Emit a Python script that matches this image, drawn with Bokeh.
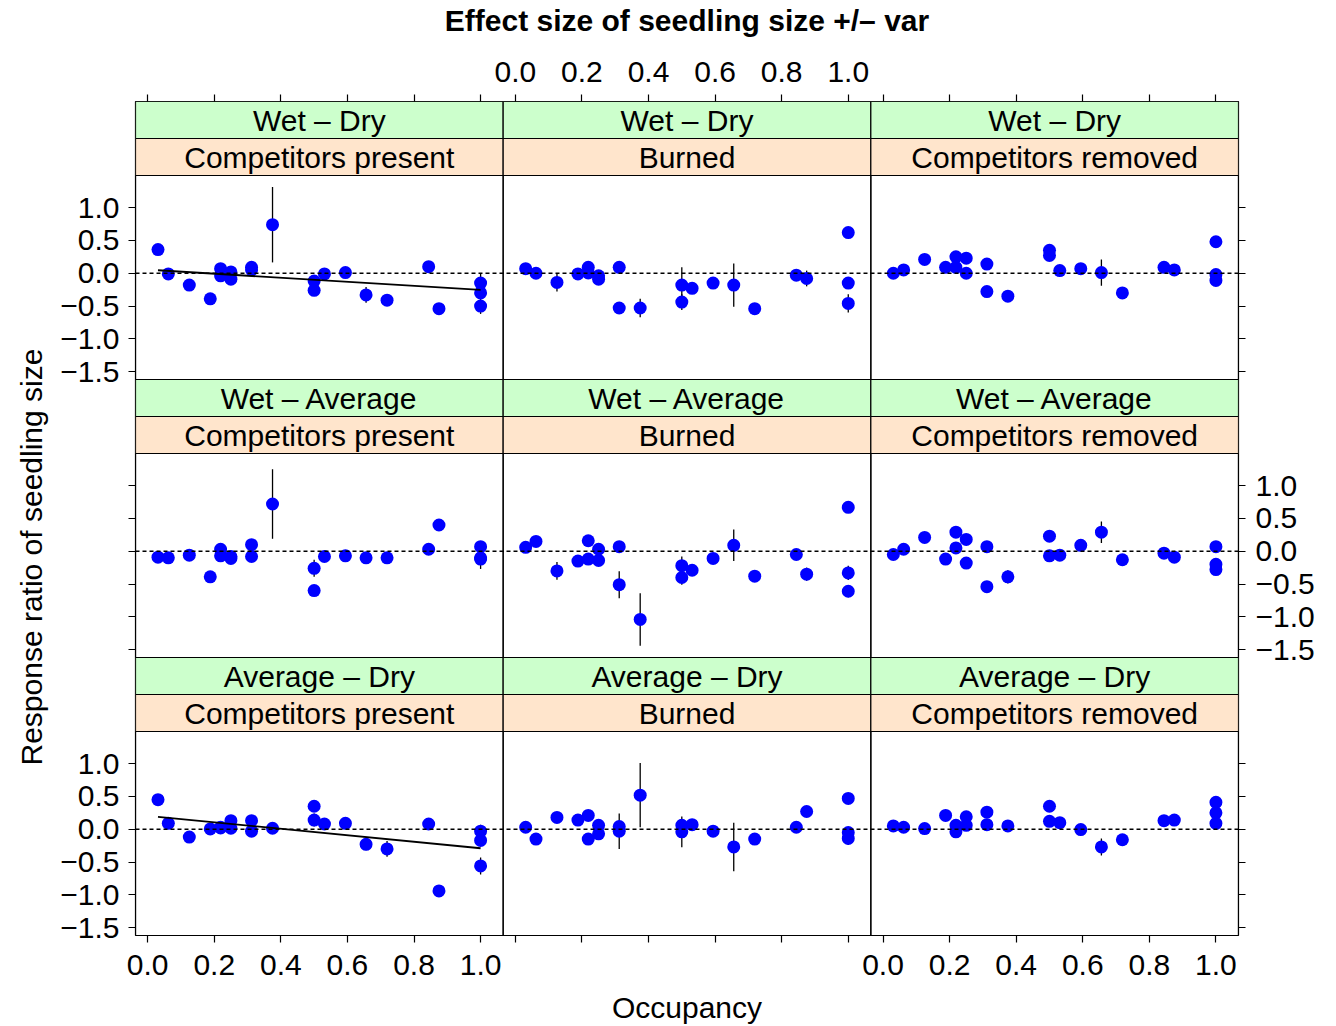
from bokeh.plotting import figure
from bokeh.models import (ColumnDataSource, Range1d, LinearAxis, FixedTicker,
                          CustomJSTickFormatter, Span, Title)
from bokeh.transform import dodge
from bokeh.embed import file_html
from bokeh.resources import INLINE
from bokeh.core.properties import value

# ---------------- data ----------------
contrasts = ["Wet – Dry", "Wet – Average", "Average – Dry"]
treatments = ["Competitors present", "Burned", "Competitors removed"]

occupancy = [0.031, 0.062, 0.125, 0.188, 0.219, 0.219, 0.25, 0.25, 0.312, 0.312,
             0.375, 0.5, 0.5, 0.531, 0.594, 0.656, 0.719, 0.844, 0.875, 1.0, 1.0, 1.0]

# response ratio of seedling size, one list per panel (contrast x treatment)
wd_present = [0.36, -0.01, -0.18, -0.39, 0.07, -0.04, 0.02, -0.09, 0.09, 0.05,
              0.74, -0.12, -0.26, -0.01, 0.01, -0.33, -0.41, 0.10, -0.54, -0.15, -0.30, -0.50]
wd_burned = [0.07, 0.0, -0.14, -0.01, 0.09, 0.005, -0.04, -0.09, 0.09, -0.53,
             -0.53, -0.18, -0.44, -0.23, -0.15, -0.18, -0.54, -0.03, -0.08, 0.62, -0.15, -0.46]
wd_removed = [0.0, 0.05, 0.21, 0.09, 0.25, 0.09, 0.23, 0.0, 0.14, -0.28,
              -0.35, 0.35, 0.27, 0.04, 0.07, 0.01, -0.30, 0.09, 0.05, 0.48, -0.02, -0.11]
wa_present = [-0.09, -0.10, -0.06, -0.39, 0.03, -0.07, -0.08, -0.11, 0.10, -0.08,
              0.72, -0.26, -0.60, -0.08, -0.07, -0.10, -0.10, 0.03, 0.40, 0.07, -0.12, -0.10]
wa_burned = [0.06, 0.15, -0.30, -0.15, 0.16, -0.12, 0.03, -0.14, 0.07, -0.51,
             -1.04, -0.22, -0.40, -0.29, -0.11, 0.09, -0.38, -0.05, -0.35, 0.67, -0.33, -0.61]
wa_removed = [-0.05, 0.03, 0.21, -0.12, 0.29, 0.05, 0.18, -0.18, 0.07, -0.54,
              -0.39, 0.23, -0.07, -0.06, 0.09, 0.29, -0.13, -0.03, -0.09, 0.07, -0.20, -0.28]
ad_present = [0.45, 0.09, -0.12, 0.005, 0.03, 0.02, 0.13, 0.015, 0.13, -0.03,
              0.015, 0.35, 0.14, 0.08, 0.09, -0.23, -0.30, 0.08, -0.94, -0.03, -0.17, -0.56]
ad_burned = [0.03, -0.15, 0.18, 0.14, 0.21, -0.15, 0.06, -0.07, 0.04, -0.03,
             0.52, 0.06, -0.04, 0.07, -0.03, -0.27, -0.15, 0.03, 0.27, 0.47, -0.05, -0.14]
ad_removed = [0.05, 0.03, 0.01, 0.21, 0.06, -0.04, 0.19, 0.06, 0.26, 0.07,
              0.05, 0.35, 0.12, 0.10, -0.005, -0.27, -0.16, 0.13, 0.14, 0.41, 0.25, 0.09]

# +/- variance (half length of the vertical bars)
wd_present_var = [0, 0, 0, 0, 0, 0, 0, 0, 0, 0, 0.575, 0, 0, 0, 0, 0.12, 0, 0, 0, 0.14, 0, 0.12]
wd_burned_var = [0, 0, 0.14, 0, 0, 0, 0, 0, 0, 0, 0.14, 0.27, 0.12, 0, 0, 0.33, 0, 0, 0.12, 0, 0.09, 0.14]
wd_removed_var = [0, 0, 0, 0, 0, 0, 0, 0, 0, 0, 0, 0, 0, 0, 0, 0.2, 0.09, 0, 0, 0, 0, 0]
wa_present_var = [0, 0, 0, 0, 0, 0, 0, 0, 0, 0, 0.53, 0.13, 0, 0, 0, 0, 0.07, 0, 0, 0, 0.15, 0]
wa_burned_var = [0, 0, 0.135, 0, 0, 0, 0, 0, 0, 0.205, 0.40, 0.14, 0.11, 0, 0, 0.24, 0, 0, 0.10, 0, 0.11, 0.09]
wa_removed_var = [0, 0, 0, 0.06, 0, 0, 0, 0, 0, 0, 0.10, 0, 0, 0, 0, 0.165, 0, 0, 0.06, 0, 0, 0]
ad_present_var = [0, 0, 0, 0, 0, 0, 0, 0, 0, 0, 0, 0, 0.10, 0, 0, 0.09, 0.12, 0, 0, 0.10, 0, 0.13]
ad_burned_var = [0, 0, 0, 0, 0, 0, 0, 0, 0, 0.27, 0.49, 0, 0.235, 0, 0, 0.37, 0, 0, 0, 0, 0, 0.10]
ad_removed_var = [0, 0, 0, 0, 0, 0, 0, 0, 0, 0, 0, 0, 0, 0, 0, 0.13, 0, 0, 0, 0, 0, 0]

panel_values = [[wd_present, wd_burned, wd_removed],
                [wa_present, wa_burned, wa_removed],
                [ad_present, ad_burned, ad_removed]]
panel_vars = [[wd_present_var, wd_burned_var, wd_removed_var],
              [wa_present_var, wa_burned_var, wa_removed_var],
              [ad_present_var, ad_burned_var, ad_removed_var]]

# fitted regression lines (contrast, treatment, intercept, slope)
fit_contrast = ["Wet – Dry", "Average – Dry"]
fit_treatment = ["Competitors present", "Competitors present"]
fit_intercept = [0.055, 0.205]
fit_slope = [-0.31, -0.495]

x_ticks = [0.0, 0.2, 0.4, 0.6, 0.8, 1.0]
y_ticks = [-1.5, -1.0, -0.5, 0.0, 0.5, 1.0]

main_title = "Effect size of seedling size +/– var"
x_title = "Occupancy"
y_title = "Response ratio of seedling size"

# ---------------- layout ----------------
XLIM = (-0.0366, 1.0678)
YLIM = (-1.62, 1.49)
FRAME_W, FRAME_H = 1103, 834
PLOT_PX, STRIP_PX = 204, 37
W = XLIM[1] - XLIM[0]
s = STRIP_PX * (YLIM[1] - YLIM[0]) / PLOT_PX
H = (YLIM[1] - YLIM[0]) + 2 * s
FONT = "Liberation Sans"
FS = "30px"

p = figure(frame_width=FRAME_W, frame_height=FRAME_H,
           min_border_left=135, min_border_right=98, min_border_top=101, min_border_bottom=91,
           x_range=Range1d(XLIM[0], XLIM[0] + 3 * W), y_range=Range1d(YLIM[0], YLIM[0] + 3 * H),
           x_axis_location=None, y_axis_location=None,
           output_backend="svg", toolbar_location=None, tools="")
p.grid.visible = False
p.outline_line_color = "black"
p.outline_line_width = 1.2
p.background_fill_color = "white"
p.border_fill_color = "white"

xt = [c * W + v for c in range(3) for v in x_ticks]
yt = [b * H + v for b in range(3) for v in y_ticks]

def xfmt(show):
    return CustomJSTickFormatter(args=dict(W=W, lo=XLIM[0], show=show), code="""
        const c = Math.floor((tick - lo) / W);
        if (!show[c]) { return ""; }
        let v = tick - c * W;
        if (Math.abs(v) < 1e-9) { v = 0; }
        return v.toFixed(1);
    """)

def yfmt(show):
    return CustomJSTickFormatter(args=dict(H=H, lo=YLIM[0], show=show), code="""
        const b = Math.floor((tick - lo) / H);
        if (!show[b]) { return ""; }
        let v = tick - b * H;
        if (Math.abs(v) < 1e-9) { v = 0; }
        return v.toFixed(1).replace("-", "\u2212");
    """)

def style_axis(ax, ticks, standoff):
    ax.ticker = FixedTicker(ticks=ticks)
    ax.axis_line_color = None
    ax.major_tick_out = 7
    ax.major_tick_in = 0
    ax.minor_tick_line_color = None
    ax.major_tick_line_color = "black"
    ax.major_tick_line_width = 1.2
    ax.major_label_text_font = FONT
    ax.major_label_text_font_size = FS
    ax.major_label_text_color = "black"
    ax.major_label_standoff = standoff
    ax.axis_label_text_font = FONT
    ax.axis_label_text_font_size = FS
    ax.axis_label_text_font_style = "normal"
    ax.axis_label_text_color = "black"

bottom = LinearAxis(formatter=xfmt([True, False, True]), axis_label=x_title)
top = LinearAxis(formatter=xfmt([False, True, False]), axis_label=main_title)
left = LinearAxis(formatter=yfmt([True, False, True]))
right = LinearAxis(formatter=yfmt([False, True, False]))
style_axis(bottom, xt, 12)
style_axis(top, xt, 13)
style_axis(left, yt, 9)
style_axis(right, yt, 10)
bottom.axis_label_standoff = 13
top.axis_label_text_font_style = "bold"
top.axis_label_standoff = 22
p.add_layout(bottom, "below")
p.add_layout(top, "above")
p.add_layout(left, "left")
p.add_layout(right, "right")

# y-axis title, anchored near the bottom of the panel area like the original
ytitle = Title(text=y_title, align="left", offset=170, standoff=20, vertical_align="bottom",
               text_font=FONT, text_font_size=FS, text_font_style="normal", text_color="black")
p.add_layout(ytitle, "left")

# strips and panel boxes
strip_l, strip_r, strip_b, strip_t, strip_c, strip_tx, strip_ty, strip_text = [], [], [], [], [], [], [], []
box_l, box_r, box_b, box_t = [], [], [], []
for r in range(3):
    b = 2 - r
    for c in range(3):
        l0 = XLIM[0] + c * W
        r0 = l0 + W
        ptop = YLIM[1] + b * H
        box_l.append(l0); box_r.append(r0); box_b.append(YLIM[0] + b * H); box_t.append(ptop)
        # lower strip: treatment (peach), upper strip: contrast (green)
        for k, (txt, col) in enumerate([(treatments[c], "#FFE5CC"), (contrasts[r], "#CCFFCC")]):
            sb = ptop + k * s
            strip_l.append(l0); strip_r.append(r0); strip_b.append(sb); strip_t.append(sb + s)
            strip_c.append(col)
            strip_tx.append((l0 + r0) / 2); strip_ty.append(sb + s / 2); strip_text.append(txt)

p.quad(left=strip_l, right=strip_r, bottom=strip_b, top=strip_t, fill_color=strip_c,
       line_color="black", line_width=1.2)
p.text(x=strip_tx, y=strip_ty, text=strip_text, text_font=value(FONT), text_font_size=FS,
       text_align="center", text_baseline="middle", text_color="black")
p.quad(left=box_l, right=box_r, bottom=box_b, top=box_t, fill_color=None,
       line_color="black", line_width=1.2)

# zero reference lines
for b in range(3):
    p.add_layout(Span(location=b * H, dimension="width", line_color="black",
                      line_dash="4 3", line_width=1.3))

# data
for r in range(3):
    b = 2 - r
    for c in range(3):
        xo, yo = c * W, b * H
        vals = panel_values[r][c]
        vars_ = panel_vars[r][c]
        eo = [o for o, e in zip(occupancy, vars_) if e > 0]
        elo = [v - e for v, e in zip(vals, vars_) if e > 0]
        ehi = [v + e for v, e in zip(vals, vars_) if e > 0]
        esrc = ColumnDataSource(dict(occ=eo, lo=elo, hi=ehi))
        p.segment(x0=dodge("occ", xo), y0=dodge("lo", yo), x1=dodge("occ", xo), y1=dodge("hi", yo),
                  source=esrc, line_color="black", line_width=1.3)
        src = ColumnDataSource(dict(occ=occupancy, y=vals))
        p.scatter(x=dodge("occ", xo), y=dodge("y", yo), source=src, size=13,
                  fill_color="#0000FF", line_color=None)
        for fc, ft, a, sl in zip(fit_contrast, fit_treatment, fit_intercept, fit_slope):
            if fc == contrasts[r] and ft == treatments[c]:
                fx = [min(occupancy), max(occupancy)]
                fsrc = ColumnDataSource(dict(x=fx, y=[a + sl * v for v in fx]))
                p.line(x=dodge("x", xo), y=dodge("y", yo), source=fsrc, line_color="black", line_width=1.8)

open("out.html", "w").write(file_html(p, INLINE))
